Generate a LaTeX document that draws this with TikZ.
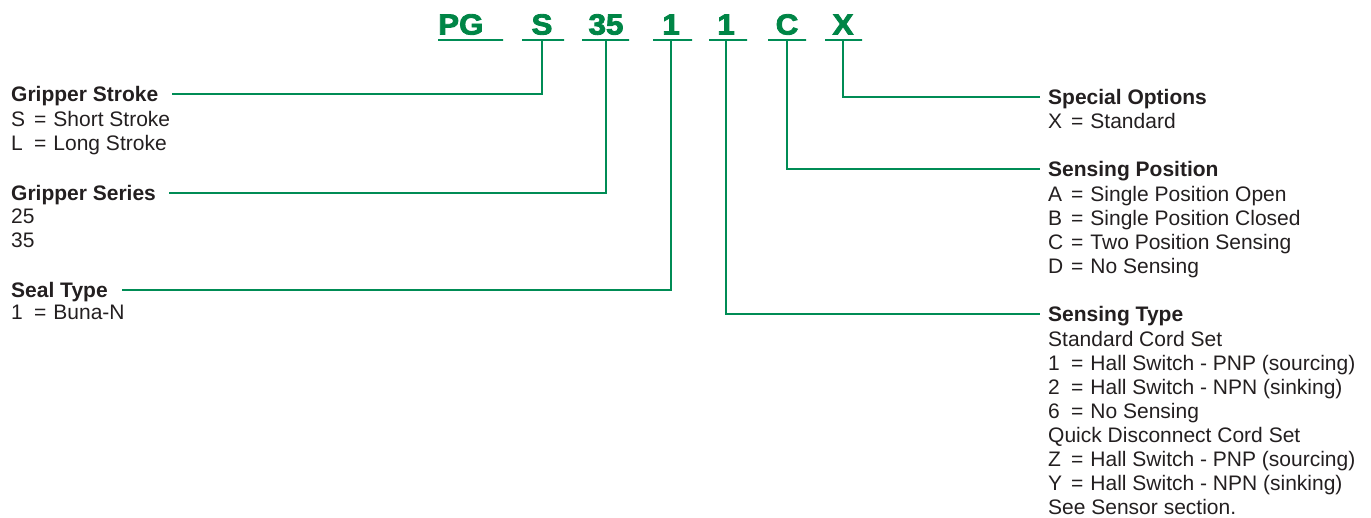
\documentclass[tikz,border=0pt]{standalone}
\usepackage{fontspec}
\setmainfont{Liberation Sans}
\newfontfamily\codefont[FakeBold=3,FakeStretch=1.08]{Liberation Sans Bold}
\definecolor{codegreen}{RGB}{0,133,70}
\definecolor{linegreen}{RGB}{0,140,85}
\definecolor{txt}{RGB}{35,31,32}
\newcommand{\itm}[2]{\makebox[23pt][l]{#1}=\hspace{7pt}#2}
\newcommand{\rows}[1]{\begin{tabular}[t]{@{}l@{}}#1\end{tabular}}
\tikzset{
  code/.style={font=\codefont\fontsize{29}{29}\selectfont, text=codegreen, inner sep=0pt, anchor=base},
  uline/.style={draw=linegreen, line width=1.3pt, minimum height=0pt, inner sep=0pt},
  link/.style={draw=linegreen, line width=1.3pt},
  head/.style={font=\bfseries\fontsize{21}{24}\selectfont, text=txt, inner sep=0pt, anchor=base west},
  lst/.style={font=\fontsize{21}{24}\selectfont, text=txt, inner sep=0pt, anchor=base west}
}
\begin{document}
\begin{tikzpicture}[x=1pt,y=-1pt]
\useasboundingbox (0,0) rectangle (1371,518);
% code letters
\node[code, anchor=base west] (cPG) at (438,34.5) {PG};
\node[code] (cS) at (542,34.5) {S};
\node[code] (c35) at (606,34.5) {35};
\node[code] (cA) at (671,34.5) {1};
\node[code] (cB) at (726,34.5) {1};
\node[code] (cC) at (787,34.5) {C};
\node[code] (cX) at (843,34.5) {X};
% underlines
\node[uline, minimum width=65pt] (uPG) at (470.5,40) {};
\node[uline, minimum width=42pt] (uS) at (543,40) {};
\node[uline, minimum width=47pt] (u35) at (605.5,40) {};
\node[uline, minimum width=39pt] (uA) at (672.5,40) {};
\node[uline, minimum width=38pt] (uB) at (728,40) {};
\node[uline, minimum width=38pt] (uC) at (787,40) {};
\node[uline, minimum width=37pt] (uX) at (843.5,40) {};
% left headings
\node[head] (hStroke) at (11,101.5) {Gripper Stroke};
\node[lst] (lStroke) at (11,127) {\rows{\itm{S}{Short Stroke}\\\itm{L}{Long Stroke}}};
\node[head] (hSeries) at (11,200.5) {Gripper Series};
\node[lst] (lSeries) at (11,224) {\rows{25\\35}};
\node[head] (hSeal) at (11,297.5) {Seal Type};
\node[lst] (lSeal) at (11,320) {\itm{1}{Buna-N}};
% right headings
\node[head] (hSpec) at (1048,104.5) {Special Options};
\node[lst] (lSpec) at (1048,129) {\itm{X}{Standard}};
\node[head] (hPos) at (1048,176.5) {Sensing Position};
\node[lst] (lPos) at (1048,202) {\rows{\itm{A}{Single Position Open}\\\itm{B}{Single Position Closed}\\\itm{C}{Two Position Sensing}\\\itm{D}{No Sensing}}};
\node[head] (hType) at (1048,321.5) {Sensing Type};
\node[lst] (lType) at (1048,347) {\rows{Standard Cord Set\\\itm{1}{Hall Switch - PNP (sourcing)}\\\itm{2}{Hall Switch - NPN (sinking)}\\\itm{6}{No Sensing}\\Quick Disconnect Cord Set\\\itm{Z}{Hall Switch - PNP (sourcing)}\\\itm{Y}{Hall Switch - NPN (sinking)}\\See Sensor section.}};
% connectors
\draw[link] (cS.base |- uS.center) |- ([xshift=14pt,yshift=7.5pt]hStroke.base east);
\draw[link] (c35.base |- u35.center) |- ([xshift=13pt,yshift=7.5pt]hSeries.base east);
\draw[link] (cA.base |- uA.center) |- ([xshift=14pt,yshift=7.5pt]hSeal.base east);
\draw[link] (cB.base |- uB.center) |- ([xshift=-8pt,yshift=7.5pt]hType.base west);
\draw[link] (cC.base |- uC.center) |- ([xshift=-8pt,yshift=7.5pt]hPos.base west);
\draw[link] (cX.base |- uX.center) |- ([xshift=-8pt,yshift=7.5pt]hSpec.base west);
\end{tikzpicture}
\end{document}
